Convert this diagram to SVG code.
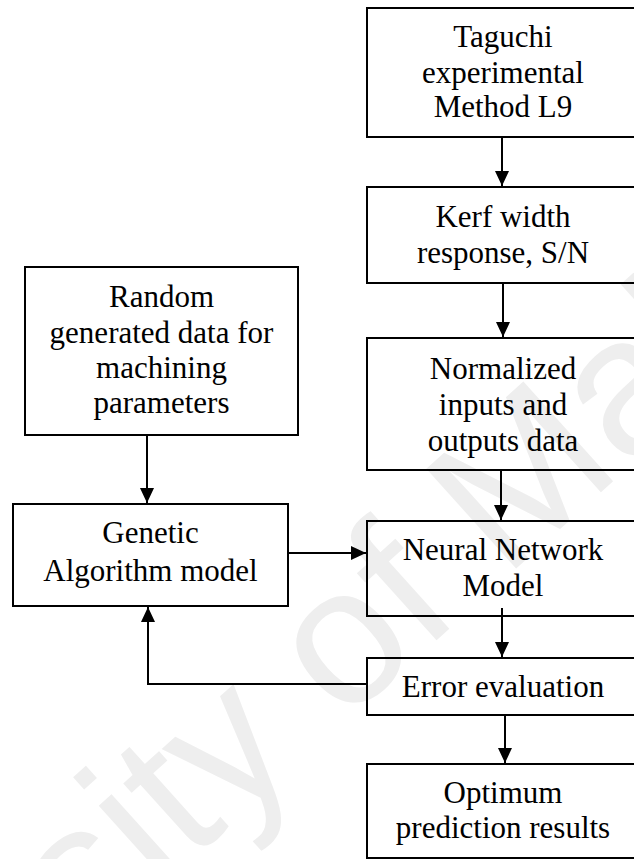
<svg xmlns="http://www.w3.org/2000/svg" width="634" height="859" viewBox="0 0 634 859">
  <style>
    .box { fill: none; stroke: #000; stroke-width: 2; }
    .lbl { font-family: "Liberation Serif", "Times New Roman", serif; font-size: 31px; fill: #000; text-anchor: middle; }
    .wire { fill: none; stroke: #000; stroke-width: 2; }
    .mark { font-family: "Liberation Sans", Arial, sans-serif; font-size: 195px; fill: #eeeeee; text-anchor: middle; }
  </style>
  <defs>
    <marker id="head" viewBox="0 0 15 14" refX="15" refY="7" markerWidth="15" markerHeight="14" markerUnits="userSpaceOnUse" orient="auto">
      <path d="M0,0 L15,7 L0,14 Z" fill="#000"/>
    </marker>
  </defs>
  <rect width="634" height="859" fill="#fff"/>

  <!-- background watermark -->
  <text class="mark" transform="translate(319,746) rotate(-42)">University of Malaya</text>

  <g id="taguchi">
    <rect class="box" x="367" y="8" width="274" height="129"/>
    <text class="lbl" x="503" y="47">Taguchi</text>
    <text class="lbl" x="503" y="83">experimental</text>
    <text class="lbl" x="503" y="117">Method L9</text>
  </g>
  <g id="kerf">
    <rect class="box" x="367" y="187" width="274" height="96"/>
    <text class="lbl" x="503" y="227">Kerf width</text>
    <text class="lbl" x="503" y="263">response, S/N</text>
  </g>
  <g id="normalized">
    <rect class="box" x="367" y="338" width="274" height="132"/>
    <text class="lbl" x="503" y="379">Normalized</text>
    <text class="lbl" x="503" y="415">inputs and</text>
    <text class="lbl" x="503" y="451">outputs data</text>
  </g>
  <g id="random">
    <rect class="box" x="25" y="267" width="273" height="168"/>
    <text class="lbl" x="161.5" y="307">Random</text>
    <text class="lbl" x="161.5" y="343">generated data for</text>
    <text class="lbl" x="161.5" y="378">machining</text>
    <text class="lbl" x="161.5" y="413">parameters</text>
  </g>
  <g id="genetic">
    <rect class="box" x="13" y="504" width="275" height="102"/>
    <text class="lbl" x="150.5" y="543">Genetic</text>
    <text class="lbl" x="150.5" y="581">Algorithm model</text>
  </g>
  <g id="neural">
    <rect class="box" x="367" y="521" width="274" height="95"/>
    <text class="lbl" x="503" y="560">Neural Network</text>
    <text class="lbl" x="503" y="596">Model</text>
  </g>
  <g id="error">
    <rect class="box" x="367" y="658" width="274" height="57"/>
    <text class="lbl" x="503" y="697">Error evaluation</text>
  </g>
  <g id="optimum">
    <rect class="box" x="367" y="764" width="274" height="94"/>
    <text class="lbl" x="503" y="803">Optimum</text>
    <text class="lbl" x="503" y="838">prediction results</text>
  </g>

  <g id="connectors">
    <line class="wire" x1="502" y1="137" x2="502" y2="186" marker-end="url(#head)"/>
    <line class="wire" x1="503" y1="283" x2="503" y2="337" marker-end="url(#head)"/>
    <line class="wire" x1="501" y1="470" x2="501" y2="520" marker-end="url(#head)"/>
    <line class="wire" x1="502" y1="608" x2="502" y2="657" marker-end="url(#head)"/>
    <line class="wire" x1="505" y1="715" x2="505" y2="763" marker-end="url(#head)"/>
    <line class="wire" x1="147" y1="435" x2="147" y2="503" marker-end="url(#head)"/>
    <line class="wire" x1="288" y1="553" x2="366" y2="553" marker-end="url(#head)"/>
    <polyline class="wire" points="367,684 148,684 148,607" marker-end="url(#head)"/>
  </g>
</svg>
